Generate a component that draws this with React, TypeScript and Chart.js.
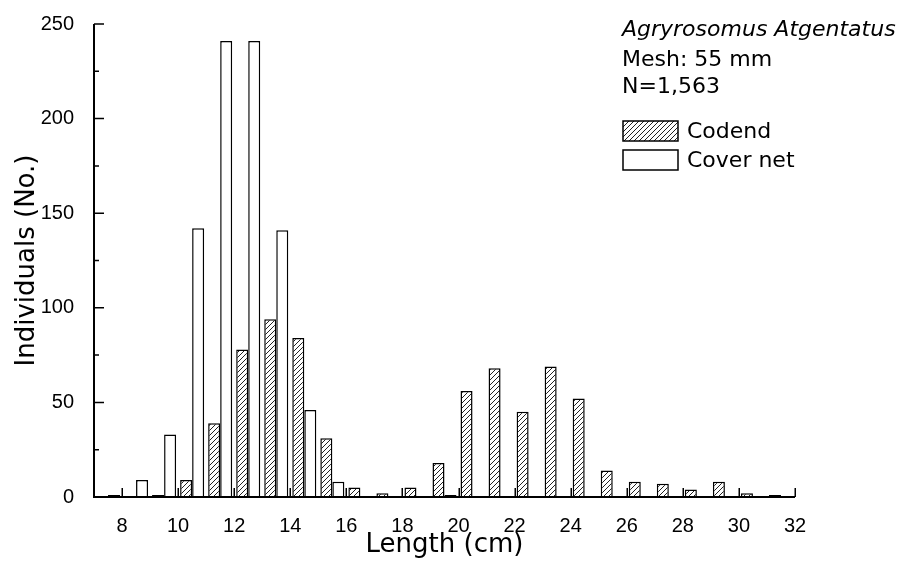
import React, { useEffect, useRef } from 'react';
import { Chart, registerables } from 'chart.js';

Chart.register(...registerables);

// Length classes (class mid-points, cm)
const lengthClasses = [7.5, 8.5, 9.5, 10.5, 11.5, 12.5, 13.5, 14.5, 15.5, 16.5, 17.5, 18.5, 19.5, 20.5, 21.5, 22.5, 23.5, 24.5, 25.5, 26.5, 27.5, 28.5, 29.5, 30.5, 31.5];
const codend = [0, 0, 1, 9, 39, 78, 94, 84, 31, 5, 2, 5, 18, 56, 68, 45, 69, 52, 14, 8, 7, 4, 8, 2, 1];
const coverNet = [1, 9, 33, 142, 241, 241, 141, 46, 8, 0, 0, 0, 1, 0, 0, 0, 0, 0, 0, 0, 0, 0, 0, 0, 0];
const xTicks = [8, 10, 12, 14, 16, 18, 20, 22, 24, 26, 28, 30, 32];
const yTicks = [0, 50, 100, 150, 200, 250];
const yMinorTicks = [25, 75, 125, 175, 225];
const seriesNames = ['Codend', 'Cover net'];
const infoLines = ['Agryrosomus Atgentatus', 'Mesh: 55 mm', 'N=1,563'];

function makeHatch(): CanvasPattern | string {
  const c = document.createElement('canvas');
  c.width = 5;
  c.height = 5;
  const g = c.getContext('2d');
  if (!g) return '#ccc';
  g.fillStyle = '#fff';
  g.fillRect(0, 0, 5, 5);
  g.strokeStyle = '#222';
  g.lineWidth = 1;
  g.beginPath();
  g.moveTo(-1, 6); g.lineTo(6, -1);
  g.moveTo(-1, 1); g.lineTo(1, -1);
  g.moveTo(4, 6); g.lineTo(6, 4);
  g.stroke();
  const p = g.createPattern(c, 'repeat');
  return p || '#ccc';
}

export default function App() {
  const ref = useRef<HTMLCanvasElement | null>(null);

  useEffect(() => {
    if (!ref.current) return;
    const hatch = makeHatch();

    const axesPlugin = {
      id: 'axesAndLegend',
      afterDatasetsDraw(chart: any) {
        const ctx = chart.ctx as CanvasRenderingContext2D;
        const xs = chart.scales.x;
        const ys = chart.scales.y;
        const x0 = xs.getPixelForValue(7);
        const x1 = xs.getPixelForValue(32);
        const yb = ys.getPixelForValue(0);
        const yt = ys.getPixelForValue(250);
        ctx.save();
        ctx.strokeStyle = '#000';
        ctx.lineWidth = 2;
        ctx.beginPath();
        ctx.moveTo(x0, yt);
        ctx.lineTo(x0, yb);
        ctx.lineTo(x1, yb);
        ctx.stroke();
        ctx.lineWidth = 1.5;
        ctx.beginPath();
        xTicks.forEach((v) => {
          const px = Math.round(xs.getPixelForValue(v)) + 0.25;
          ctx.moveTo(px, yb);
          ctx.lineTo(px, yb - 9);
        });
        yTicks.forEach((v) => {
          const py = ys.getPixelForValue(v);
          ctx.moveTo(x0, py);
          ctx.lineTo(x0 + 10, py);
        });
        yMinorTicks.forEach((v) => {
          const py = ys.getPixelForValue(v);
          ctx.moveTo(x0, py);
          ctx.lineTo(x0 + 5, py);
        });
        ctx.stroke();

        // annotation + legend
        ctx.fillStyle = '#000';
        ctx.textBaseline = 'alphabetic';
        ctx.textAlign = 'left';
        ctx.font = 'italic 22px "DejaVu Sans"';
        ctx.fillText(infoLines[0], 622, 36);
        ctx.font = '22px "DejaVu Sans"';
        ctx.fillText(infoLines[1], 622, 66);
        ctx.fillText(infoLines[2], 622, 93);

        ctx.lineWidth = 1.5;
        ctx.fillStyle = hatch as any;
        ctx.fillRect(623, 121, 55, 20);
        ctx.strokeRect(623, 121, 55, 20);
        ctx.fillStyle = '#fff';
        ctx.fillRect(623, 150, 55, 20);
        ctx.strokeRect(623, 150, 55, 20);
        ctx.fillStyle = '#000';
        ctx.fillText(seriesNames[0], 687, 138);
        ctx.fillText(seriesNames[1], 687, 167);
        ctx.restore();
      },
    };

    const chart = new Chart(ref.current, {
      type: 'bar',
      data: {
        datasets: [
          {
            label: seriesNames[0],
            data: lengthClasses.map((x, i) => ({ x, y: codend[i] })),
            backgroundColor: hatch as any,
            borderColor: '#000',
            borderWidth: 1.5,
            categoryPercentage: 24 / 28,
            barPercentage: 1,
          },
          {
            label: seriesNames[1],
            data: lengthClasses.map((x, i) => ({ x, y: coverNet[i] })),
            backgroundColor: '#fff',
            borderColor: '#000',
            borderWidth: 1.5,
            categoryPercentage: 24 / 28,
            barPercentage: 1,
          },
        ],
      },
      options: {
        responsive: false,
        animation: false,
        layout: { padding: { top: 20, right: 111, left: 0, bottom: 0 } },
        plugins: { legend: { display: false }, tooltip: { enabled: false } },
        scales: {
          x: {
            type: 'linear',
            min: 7,
            max: 32,
            offset: false,
            grid: { display: false },
            border: { display: false },
            afterBuildTicks: (s: any) => {
              s.ticks = xTicks.map((v) => ({ value: v }));
            },
            afterFit: (s: any) => {
              s.height = 71;
            },
            ticks: {
              color: '#000',
              font: { family: 'Liberation Sans', size: 20 },
              padding: 9,
              maxRotation: 0,
              autoSkip: false,
            },
            title: {
              display: true,
              text: 'Length (cm)',
              color: '#000',
              font: { family: 'DejaVu Sans', size: 26 },
              padding: { top: 0, bottom: 7 },
            },
          },
          y: {
            min: 0,
            max: 250,
            grid: { display: false },
            border: { display: false },
            afterBuildTicks: (s: any) => {
              s.ticks = yTicks.map((v) => ({ value: v }));
            },
            afterFit: (s: any) => {
              s.width = 94;
            },
            ticks: {
              color: '#000',
              font: { family: 'Liberation Sans', size: 20 },
              padding: 12,
            },
            title: {
              display: true,
              text: 'Individuals (No.)',
              color: '#000',
              font: { family: 'DejaVu Sans', size: 26 },
              padding: { top: 12, bottom: 0 },
            },
          },
        },
      },
      plugins: [axesPlugin],
    });

    return () => chart.destroy();
  }, []);

  return (
    <div style={{ position: 'absolute', left: 0, top: 0, width: 906, height: 568, background: '#fff' }}>
      <canvas ref={ref} width={906} height={568} style={{ width: 906, height: 568 }} />
    </div>
  );
}
